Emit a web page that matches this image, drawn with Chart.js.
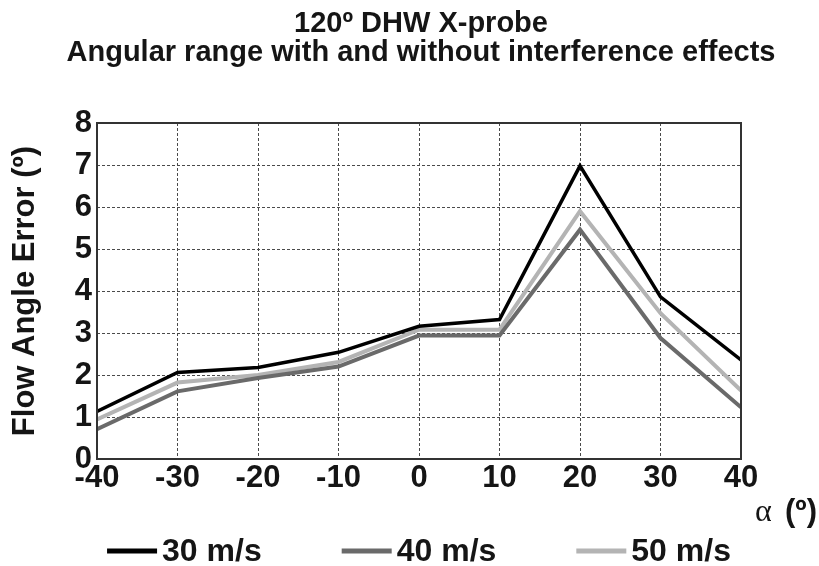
<!DOCTYPE html>
<html>
<head>
<meta charset="utf-8">
<script src="https://cdn.jsdelivr.net/npm/chart.js@4.4.1/dist/chart.umd.min.js"></script>
<style>
  html, body { margin: 0; padding: 0; background: #fff; }
  #wrap { width: 819px; height: 566px; }
</style>
</head>
<body>
<div id="wrap"><canvas id="chart" width="819" height="566"></canvas></div>
<script>
const angles = [-40, -30, -20, -10, 0, 10, 20, 30, 40];
const err30 = [1.13, 2.06, 2.18, 2.54, 3.16, 3.32, 6.98, 3.86, 2.36];
const err40 = [0.71, 1.61, 1.93, 2.20, 2.94, 2.94, 5.46, 2.88, 1.23];
const err50 = [0.94, 1.82, 2.00, 2.31, 3.08, 3.08, 5.90, 3.47, 1.63];
const seriesNames = ["30 m/s", "40 m/s", "50 m/s"];
const titleLines = ["120º DHW X-probe", "Angular range with and without interference effects"];
const yTitle = "Flow Angle Error (º)";
const xTitleSymbol = "α";
const xTitleUnit = "(º)";

const FONT = '"Liberation Sans", Arial, sans-serif';
const TEXT = "#151515";

function points(values) {
  return angles.map((a, i) => ({ x: a, y: values[i] }));
}

// frame, x-axis title and line-sample legend
const extras = {
  id: "extras",
  beforeDraw(chart) {
    const { ctx, chartArea: a } = chart;
    ctx.save();
    ctx.fillStyle = "#fff";
    ctx.fillRect(a.left, a.top, a.right - a.left, a.bottom - a.top);
    ctx.restore();
  },
  afterDraw(chart) {
    const { ctx, chartArea: a } = chart;
    ctx.save();
    ctx.strokeStyle = "#333";
    ctx.lineWidth = 2;
    ctx.strokeRect(a.left, a.top, a.right - a.left, a.bottom - a.top);

    ctx.fillStyle = TEXT;
    ctx.textBaseline = "alphabetic";
    ctx.textAlign = "left";
    ctx.font = '32px "Liberation Serif", "DejaVu Serif", serif';
    ctx.fillText(xTitleSymbol, a.right + 14, 521);
    ctx.font = "bold 31px " + FONT;
    ctx.fillText(xTitleUnit, a.right + 44, 521);

    ctx.font = "bold 32px " + FONT;
    const sample = 50, gap = 5, spacing = 80;
    const items = chart.data.datasets.map((ds) => ({
      ds,
      w: sample + gap + ctx.measureText(ds.label).width
    }));
    const total = items.reduce((s, it) => s + it.w, 0) + spacing * (items.length - 1);
    let x = (a.left + a.right) / 2 - total / 2;
    const y = 551;
    ctx.textBaseline = "middle";
    items.forEach((it) => {
      ctx.fillStyle = it.ds.borderColor;
      ctx.fillRect(x, y - 2.5, sample, 5);
      ctx.fillStyle = TEXT;
      ctx.fillText(it.ds.label, x + sample + gap, y + 1);
      x += it.w + spacing;
    });
    ctx.restore();
  }
};

new Chart(document.getElementById("chart"), {
  type: "line",
  data: {
    datasets: [
      { label: seriesNames[0], data: points(err30), borderColor: "#000000", borderWidth: 3.5 },
      { label: seriesNames[1], data: points(err40), borderColor: "#6a6a6a", borderWidth: 4 },
      { label: seriesNames[2], data: points(err50), borderColor: "#b4b4b4", borderWidth: 4 }
    ]
  },
  options: {
    responsive: false,
    animation: false,
    devicePixelRatio: 1,
    layout: { padding: { left: 23, right: 0, top: 0, bottom: 0 } },
    elements: { point: { radius: 0 }, line: { tension: 0 } },
    plugins: {
      legend: { display: false },
      tooltip: { enabled: false },
      title: {
        display: true,
        text: titleLines,
        color: TEXT,
        font: { family: FONT, size: 29, weight: "bold", lineHeight: 1.0 },
        padding: { top: 9, bottom: 56 }
      }
    },
    scales: {
      x: {
        type: "linear",
        min: -40,
        max: 40,
        ticks: {
          stepSize: 10,
          color: TEXT,
          padding: 1,
          font: { family: FONT, size: 31, weight: "bold" }
        },
        grid: { color: "#4a4a4a", lineWidth: 1, drawTicks: false },
        border: { display: false, dash: [3, 2] },
        afterFit(s) { s.height = 107; }
      },
      y: {
        min: 0,
        max: 8,
        ticks: {
          stepSize: 1,
          color: TEXT,
          padding: 5,
          font: { family: FONT, size: 31, weight: "bold" }
        },
        grid: { color: "#4a4a4a", lineWidth: 1, drawTicks: false },
        border: { display: false, dash: [3, 2] },
        title: {
          display: true,
          text: yTitle,
          color: TEXT,
          font: { family: FONT, size: 31, weight: "bold", lineHeight: 1.2 },
          padding: { top: -16, bottom: 0 }
        },
        afterFit(s) { s.width = 74; }
      },
      y2: {
        position: "right",
        min: 0,
        max: 8,
        ticks: { display: false },
        grid: { drawOnChartArea: false, drawTicks: false },
        border: { display: false },
        afterFit(s) { s.width = 78; }
      }
    }
  },
  plugins: [extras]
});
</script>
</body>
</html>
